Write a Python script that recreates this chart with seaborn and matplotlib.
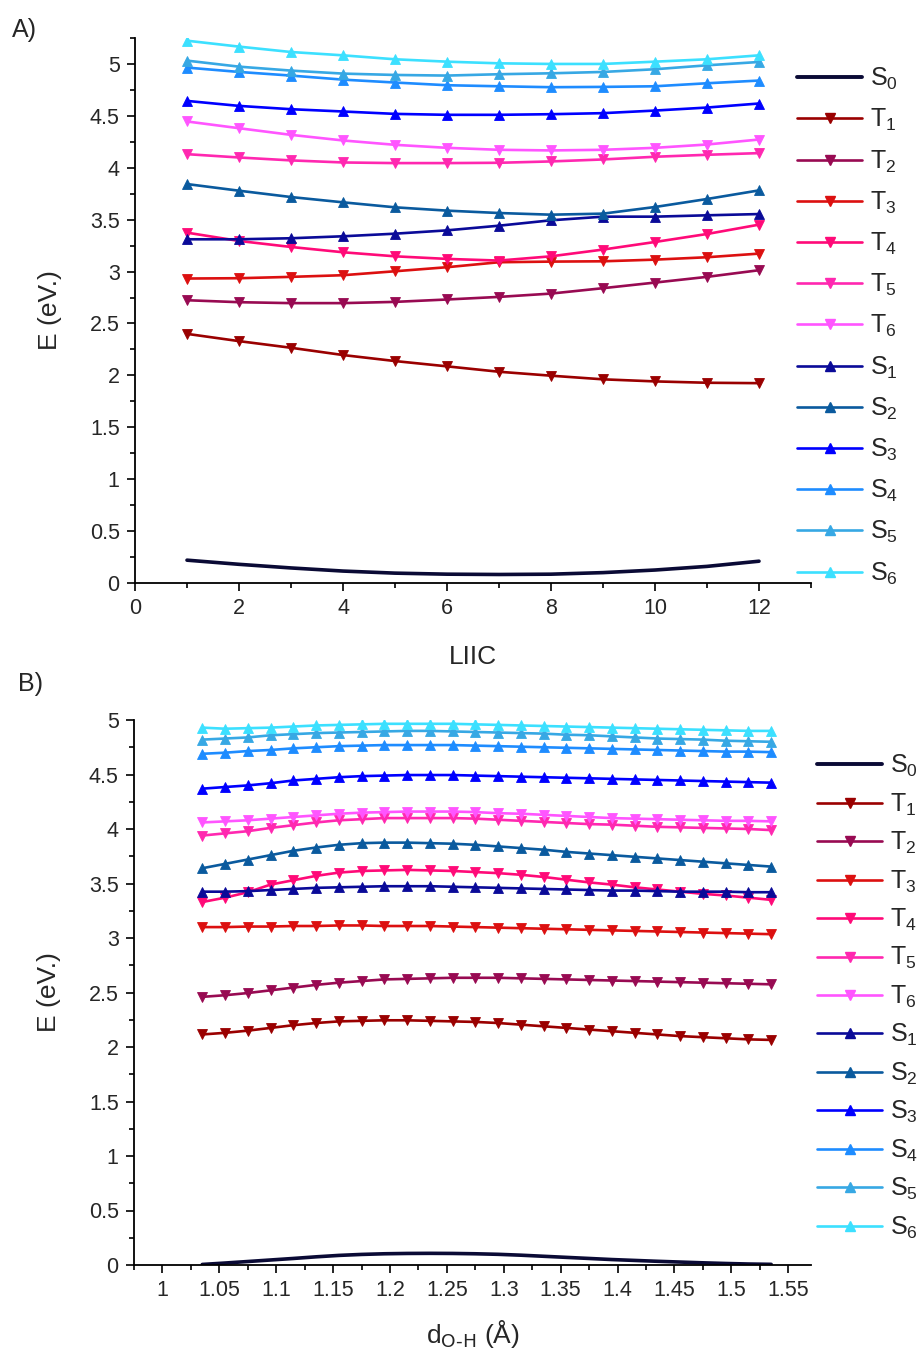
import numpy as np
import pandas as pd
import matplotlib
matplotlib.use("Agg")
import matplotlib.pyplot as plt
from matplotlib.ticker import MultipleLocator, FuncFormatter
from matplotlib.lines import Line2D
import seaborn as sns

# ---------------- data: panel A (LIIC path) ----------------
liic = [1, 2, 3, 4, 5, 6, 7, 8, 9, 10, 11, 12]

a_S0 = [0.22, 0.18, 0.145, 0.115, 0.095, 0.085, 0.082, 0.085, 0.10, 0.125, 0.16, 0.21]
a_T1 = [2.40, 2.33, 2.266, 2.196, 2.138, 2.087, 2.035, 1.997, 1.962, 1.942, 1.929, 1.925]
a_T2 = [2.724, 2.705, 2.696, 2.696, 2.708, 2.731, 2.756, 2.788, 2.840, 2.894, 2.949, 3.013]
a_T3 = [2.933, 2.936, 2.949, 2.965, 3.003, 3.042, 3.090, 3.096, 3.099, 3.115, 3.138, 3.173]
a_T4 = [3.375, 3.295, 3.237, 3.186, 3.147, 3.122, 3.106, 3.147, 3.212, 3.285, 3.362, 3.452]
a_T5 = [4.131, 4.099, 4.071, 4.051, 4.045, 4.045, 4.048, 4.061, 4.080, 4.106, 4.125, 4.141]
a_T6 = [4.446, 4.381, 4.317, 4.263, 4.221, 4.192, 4.173, 4.167, 4.173, 4.192, 4.224, 4.272]
a_S1 = [3.311, 3.311, 3.321, 3.340, 3.365, 3.397, 3.442, 3.494, 3.529, 3.529, 3.542, 3.554]
a_S2 = [3.843, 3.779, 3.718, 3.667, 3.619, 3.587, 3.564, 3.548, 3.558, 3.622, 3.699, 3.782]
a_S3 = [4.644, 4.596, 4.564, 4.542, 4.519, 4.510, 4.510, 4.516, 4.526, 4.551, 4.580, 4.619]
a_S4 = [4.965, 4.923, 4.888, 4.849, 4.821, 4.795, 4.785, 4.776, 4.779, 4.785, 4.814, 4.840]
a_S5 = [5.032, 4.974, 4.936, 4.907, 4.894, 4.888, 4.901, 4.910, 4.923, 4.949, 4.987, 5.019]
a_S6 = [5.224, 5.167, 5.115, 5.083, 5.045, 5.022, 5.006, 5.000, 5.000, 5.022, 5.045, 5.083]

# ---------------- data: panel B (O-H distance scan) ----------------
d_oh = [1.035, 1.055, 1.075, 1.095, 1.115, 1.135, 1.155, 1.175, 1.195, 1.215,
        1.235, 1.255, 1.275, 1.295, 1.315, 1.335, 1.355, 1.375, 1.395, 1.415,
        1.435, 1.455, 1.475, 1.495, 1.515, 1.535]

b_S0 = [0.005, 0.018, 0.032, 0.046, 0.060, 0.075, 0.088, 0.097, 0.103, 0.106,
        0.107, 0.106, 0.103, 0.098, 0.090, 0.080, 0.070, 0.060, 0.050, 0.042,
        0.034, 0.027, 0.020, 0.014, 0.009, 0.006]
b_T1 = [2.115, 2.13, 2.15, 2.175, 2.20, 2.22, 2.235, 2.24, 2.245, 2.245,
        2.24, 2.235, 2.23, 2.22, 2.205, 2.19, 2.175, 2.16, 2.145, 2.13,
        2.115, 2.10, 2.09, 2.08, 2.07, 2.065]
b_T2 = [2.46, 2.475, 2.495, 2.52, 2.545, 2.57, 2.59, 2.605, 2.62, 2.625,
        2.63, 2.635, 2.635, 2.635, 2.63, 2.625, 2.62, 2.615, 2.61, 2.605,
        2.60, 2.595, 2.59, 2.585, 2.58, 2.575]
b_T3 = [3.10, 3.10, 3.105, 3.105, 3.11, 3.11, 3.115, 3.115, 3.11, 3.11,
        3.11, 3.105, 3.10, 3.095, 3.09, 3.085, 3.08, 3.075, 3.07, 3.065,
        3.06, 3.055, 3.05, 3.045, 3.04, 3.035]
b_T4 = [3.33, 3.37, 3.42, 3.49, 3.53, 3.57, 3.60, 3.615, 3.62, 3.625,
        3.62, 3.615, 3.605, 3.595, 3.58, 3.56, 3.535, 3.51, 3.49, 3.465,
        3.445, 3.425, 3.405, 3.39, 3.37, 3.35]
b_T5 = [3.94, 3.96, 3.98, 4.01, 4.035, 4.06, 4.08, 4.09, 4.10, 4.10,
        4.10, 4.10, 4.095, 4.085, 4.075, 4.065, 4.055, 4.045, 4.04, 4.03,
        4.02, 4.015, 4.01, 4.005, 4.00, 3.99]
b_T6 = [4.06, 4.07, 4.08, 4.095, 4.11, 4.125, 4.14, 4.15, 4.155, 4.16,
        4.16, 4.16, 4.155, 4.145, 4.14, 4.13, 4.12, 4.11, 4.10, 4.095,
        4.09, 4.085, 4.08, 4.075, 4.075, 4.07]
b_S1 = [3.425, 3.425, 3.43, 3.44, 3.45, 3.46, 3.465, 3.47, 3.475, 3.475,
        3.475, 3.47, 3.465, 3.46, 3.455, 3.45, 3.445, 3.44, 3.435, 3.435,
        3.43, 3.425, 3.425, 3.425, 3.42, 3.42]
b_S2 = [3.64, 3.68, 3.72, 3.76, 3.80, 3.83, 3.855, 3.87, 3.875, 3.875,
        3.87, 3.865, 3.855, 3.84, 3.825, 3.81, 3.79, 3.775, 3.76, 3.745,
        3.73, 3.715, 3.70, 3.685, 3.67, 3.655]
b_S3 = [4.37, 4.385, 4.40, 4.42, 4.445, 4.46, 4.475, 4.485, 4.49, 4.495,
        4.495, 4.495, 4.49, 4.485, 4.48, 4.475, 4.47, 4.465, 4.46, 4.455,
        4.45, 4.445, 4.44, 4.435, 4.43, 4.425]
b_S4 = [4.69, 4.70, 4.715, 4.725, 4.74, 4.75, 4.76, 4.765, 4.77, 4.77,
        4.77, 4.77, 4.765, 4.76, 4.755, 4.75, 4.745, 4.74, 4.735, 4.73,
        4.725, 4.72, 4.715, 4.71, 4.71, 4.705]
b_S5 = [4.82, 4.83, 4.84, 4.86, 4.87, 4.88, 4.885, 4.89, 4.895, 4.90,
        4.90, 4.895, 4.89, 4.885, 4.88, 4.875, 4.865, 4.86, 4.85, 4.84,
        4.83, 4.825, 4.82, 4.81, 4.805, 4.80]
b_S6 = [4.93, 4.92, 4.925, 4.93, 4.94, 4.95, 4.955, 4.96, 4.965, 4.965,
        4.965, 4.965, 4.96, 4.955, 4.95, 4.945, 4.94, 4.935, 4.93, 4.925,
        4.92, 4.915, 4.91, 4.905, 4.90, 4.90]

states = ["S0", "T1", "T2", "T3", "T4", "T5", "T6", "S1", "S2", "S3", "S4", "S5", "S6"]
labels = ["S$_0$", "T$_1$", "T$_2$", "T$_3$", "T$_4$", "T$_5$", "T$_6$",
          "S$_1$", "S$_2$", "S$_3$", "S$_4$", "S$_5$", "S$_6$"]
colors = {
    "S0": "#0a0a35", "T1": "#9a0000", "T2": "#980a52", "T3": "#dc1010",
    "T4": "#ff0a78", "T5": "#ff28b0", "T6": "#ff55ff", "S1": "#0a0a98",
    "S2": "#0a5a9e", "S3": "#0000ff", "S4": "#1e8cff", "S5": "#37a8e4",
    "S6": "#3ce0ff",
}
panel_a = dict(zip(states, [a_S0, a_T1, a_T2, a_T3, a_T4, a_T5, a_T6,
                            a_S1, a_S2, a_S3, a_S4, a_S5, a_S6]))
panel_b = dict(zip(states, [b_S0, b_T1, b_T2, b_T3, b_T4, b_T5, b_T6,
                            b_S1, b_S2, b_S3, b_S4, b_S5, b_S6]))

sns.set_theme(style="ticks")
plt.rcParams["font.family"] = ["Liberation Sans", "DejaVu Sans"]
plt.rcParams["mathtext.default"] = "regular"

fig = plt.figure(figsize=(9.24, 13.56), dpi=100)
W, H = 924, 1356


def axes_px(left, right, top, bottom):
    return fig.add_axes([left / W, 1 - bottom / H, (right - left) / W, (bottom - top) / H])


def marker_for(state):
    return "v" if state.startswith("T") else "^"


def draw_panel(ax, xvals, series):
    for st in states:
        df = pd.DataFrame({"x": xvals, "E": series[st]})
        if st == "S0":
            sns.lineplot(data=df, x="x", y="E", ax=ax, color=colors[st],
                         linewidth=2.6, sort=False)
        else:
            sns.lineplot(data=df, x="x", y="E", ax=ax, color=colors[st],
                         linewidth=1.9, marker=marker_for(st), markersize=7.5,
                         markeredgecolor=colors[st], markeredgewidth=0.6, sort=False)
    for side in ("top", "right"):
        ax.spines[side].set_visible(False)
    for side in ("left", "bottom"):
        ax.spines[side].set_linewidth(1.3)
        ax.spines[side].set_color("black")
    ax.tick_params(which="major", direction="out", length=6, width=1.2,
                   labelsize=15.5, color="black", pad=5)
    ax.tick_params(which="minor", direction="out", length=3.5, width=1.2, color="black")
    ax.yaxis.set_major_locator(MultipleLocator(0.5))
    ax.yaxis.set_minor_locator(MultipleLocator(0.25))
    ax.yaxis.set_major_formatter(FuncFormatter(lambda v, p: f"{v:g}"))
    ax.set_facecolor("white")


def add_legend(x0, y0, spacing):
    handles = []
    for st, lab in zip(states, labels):
        if st == "S0":
            h = Line2D([], [], color=colors[st], linewidth=2.8, label=lab)
        else:
            h = Line2D([], [], color=colors[st], linewidth=1.9, marker=marker_for(st),
                       markersize=6.5, markeredgecolor=colors[st], label=lab)
        handles.append(h)
    fig.legend(handles=handles, loc="upper left", bbox_to_anchor=(x0 / W, 1 - y0 / H),
               frameon=False, fontsize=18, handlelength=2.6, handletextpad=0.32,
               labelspacing=spacing, borderpad=0, borderaxespad=0)


# ---------------- panel A ----------------
ax1 = axes_px(135, 811, 38, 583)
draw_panel(ax1, liic, panel_a)
ax1.set_xlim(0, 13)
ax1.set_ylim(0, 5.25)
ax1.xaxis.set_major_locator(MultipleLocator(2))
ax1.xaxis.set_minor_locator(MultipleLocator(1))
ax1.set_xlabel("LIIC", fontsize=19)
ax1.set_ylabel("E (eV.)", fontsize=19)
ax1.xaxis.set_label_coords(0.5, -0.113)
ax1.yaxis.set_label_coords(-0.108, 0.5)
add_legend(797, 66, 0.6)
fig.text(12 / W, 1 - 30 / H, "A)", fontsize=18, va="center", ha="left")

# ---------------- panel B ----------------
ax2 = axes_px(134, 811, 720, 1265)
draw_panel(ax2, d_oh, panel_b)
ax2.set_xlim(0.975, 1.57)
ax2.set_ylim(0, 5.0)
ax2.xaxis.set_major_locator(MultipleLocator(0.05))
ax2.xaxis.set_minor_locator(MultipleLocator(0.025))
ax2.xaxis.set_major_formatter(FuncFormatter(lambda v, p: f"{round(v, 3):g}"))
ax2.set_xlabel(r"d$_{\text{O-H}}$ (Å)", fontsize=19)
ax2.set_ylabel("E (eV.)", fontsize=19)
ax2.xaxis.set_label_coords(0.5, -0.098)
ax2.yaxis.set_label_coords(-0.108, 0.5)
add_legend(817, 753, 0.49)
fig.text(18 / W, 1 - 684 / H, "B)", fontsize=18, va="center", ha="left")

fig.savefig("out.png", dpi=100, facecolor="white")
